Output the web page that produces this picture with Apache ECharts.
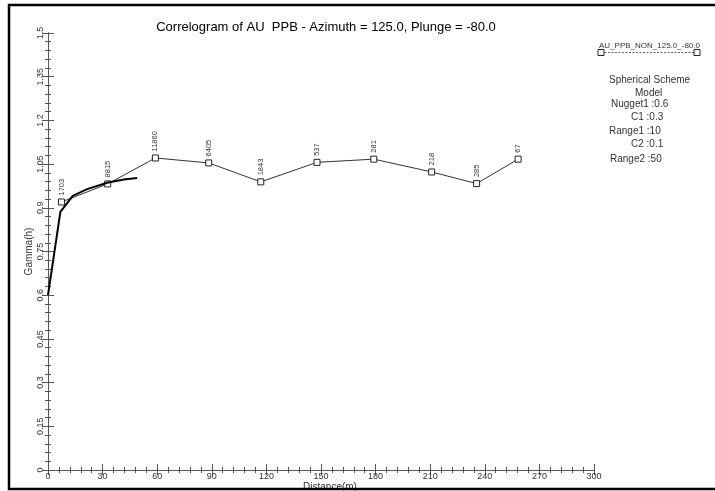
<!DOCTYPE html>
<html>
<head>
<meta charset="utf-8">
<script src="https://cdn.jsdelivr.net/npm/echarts@6/dist/echarts.min.js"></script>
<style>
  html, body { margin: 0; padding: 0; background: #fff; }
  #chart { width: 715px; height: 491px; }
</style>
</head>
<body>
<div id="chart"></div>
<script>
// experimental correlogram points
const lagDistances = [7.4, 32.8, 59.0, 88.3, 116.9, 147.8, 179.0, 210.8, 235.5, 258.3];
const gammaValues = [0.920, 0.982, 1.071, 1.054, 0.989, 1.056, 1.067, 1.023, 0.983, 1.067];
const pairCounts = ["1703", "8815", "11860", "6405", "1843", "537", "281", "218", "285", "67"];

// fitted model curve
const modelDistances = [0, 6.8, 13.6, 21.5, 32.5, 41.6, 49];
const modelGammas = [0.6, 0.886, 0.941, 0.964, 0.986, 0.997, 1.002];

// model description on the right
const modelLabels = ["Nugget1 :0.6", "C1 :0.3", "Range1 :10", "C2 :0.1", "Range2 :50"];
const legendName = "AU_PPB_NON_125.0_-80.0";

const chart = echarts.init(document.getElementById("chart"));

const axisGrey = "#555";
const textGrey = "#333";
const font = "Liberation Sans, Arial, sans-serif";

const xCommon = {
  type: "value",
  min: 0,
  max: 300,
  interval: 30,
  axisLine: { show: true, lineStyle: { color: axisGrey, width: 1 } },
  axisTick: { show: true, inside: true, length: 6, lineStyle: { color: axisGrey } },
  minorTick: { show: true, splitNumber: 5, length: 3, lineStyle: { color: axisGrey } },
  splitLine: { show: false },
};
const yCommon = {
  type: "value",
  min: 0,
  max: 1.5,
  interval: 0.15,
  axisLine: { show: true, lineStyle: { color: axisGrey, width: 1 } },
  axisTick: { show: true, inside: true, length: 6, lineStyle: { color: axisGrey } },
  minorTick: { show: true, splitNumber: 5, length: 3, lineStyle: { color: axisGrey } },
  splitLine: { show: false },
};

// text block under the legend
const textItems = [
  { type: "text", left: 609, top: 75, style: { text: "Spherical Scheme", fontSize: 10, fontFamily: font, fill: textGrey } },
  { type: "text", left: 635, top: 88, style: { text: "Model", fontSize: 10, fontFamily: font, fill: textGrey } },
];
const labelLefts = [611, 631, 609, 631, 610];
const labelTops = [99, 112, 126, 139, 154];
modelLabels.forEach((txt, i) => {
  textItems.push({
    type: "text",
    left: labelLefts[i],
    top: labelTops[i],
    style: { text: txt, fontSize: 10, fontFamily: font, fill: textGrey },
  });
});

const option = {
  backgroundColor: "#fff",
  animation: false,
  title: {
    text: "Correlogram of AU  PPB - Azimuth = 125.0, Plunge = -80.0",
    left: 321,
    textAlign: "center",
    top: 16,
    textStyle: { fontSize: 13, fontWeight: "normal", color: "#000", fontFamily: font },
  },
  grid: { left: 48, top: 33, width: 546, height: 437, containLabel: false, outerBoundsMode: "none" },
  xAxis: [
    Object.assign({}, xCommon, {
      position: "bottom",
      name: "Distance(m)",
      nameLocation: "middle",
      nameGap: 12,
      nameMoveOverlap: false,
      nameTextStyle: { fontSize: 10, color: textGrey, fontFamily: font, padding: [0, 0, 0, 18] },
      axisLabel: { fontSize: 9, color: textGrey, margin: 2, fontFamily: font },
    }),
    Object.assign({}, xCommon, {
      position: "top",
      axisLabel: { show: false },
      axisTick: { show: true, inside: true, length: 5, lineStyle: { color: axisGrey } },
    }),
  ],
  yAxis: [
    Object.assign({}, yCommon, {
      position: "left",
      name: "Gamma(h)",
      nameLocation: "middle",
      nameGap: 14,
      nameMoveOverlap: false,
      nameTextStyle: { fontSize: 10, color: textGrey, fontFamily: font },
      axisLabel: { fontSize: 9, color: textGrey, rotate: 90, margin: 3, fontFamily: font },
    }),
    Object.assign({}, yCommon, {
      position: "right",
      axisLabel: { show: false },
    }),
  ],
  series: [
    {
      name: legendName,
      type: "line",
      data: lagDistances.map((d, i) => [d, gammaValues[i]]),
      symbol: "rect",
      symbolSize: 6,
      lineStyle: { color: "#333", width: 1 },
      itemStyle: { color: "#fff", borderColor: "#222", borderWidth: 1 },
      label: {
        show: true,
        position: "top",
        distance: 1,
        rotate: 90,
        align: "left",
        verticalAlign: "middle",
        offset: [2, 0],
        fontSize: 7.5,
        color: textGrey,
        fontFamily: font,
        formatter: (p) => pairCounts[p.dataIndex],
      },
      z: 3,
    },
    {
      name: "model",
      type: "line",
      data: modelDistances.map((d, i) => [d, modelGammas[i]]),
      symbol: "none",
      lineStyle: { color: "#000", width: 2 },
      z: 4,
    },
  ],
  graphic: [
    // outer frame (no right edge in the picture)
    { type: "polyline", shape: { points: [[740, 5], [9, 5], [9, 489], [740, 489]] }, style: { stroke: "#000", lineWidth: 2.5, fill: null }, z: 100 },
    // legend
    { type: "text", left: 599, top: 42, style: { text: legendName, fontSize: 8, fontFamily: font, fill: textGrey } },
    { type: "line", shape: { x1: 601, y1: 52.5, x2: 697, y2: 52.5 }, style: { stroke: "#666", lineWidth: 1, lineDash: [2, 1.5] } },
    { type: "rect", shape: { x: 598, y: 49.5, width: 6, height: 6 }, style: { fill: "#fff", stroke: "#222", lineWidth: 1 } },
    { type: "rect", shape: { x: 694, y: 49.5, width: 6, height: 6 }, style: { fill: "#fff", stroke: "#222", lineWidth: 1 } },
  ].concat(textItems),
};

chart.setOption(option);
</script>
</body>
</html>
